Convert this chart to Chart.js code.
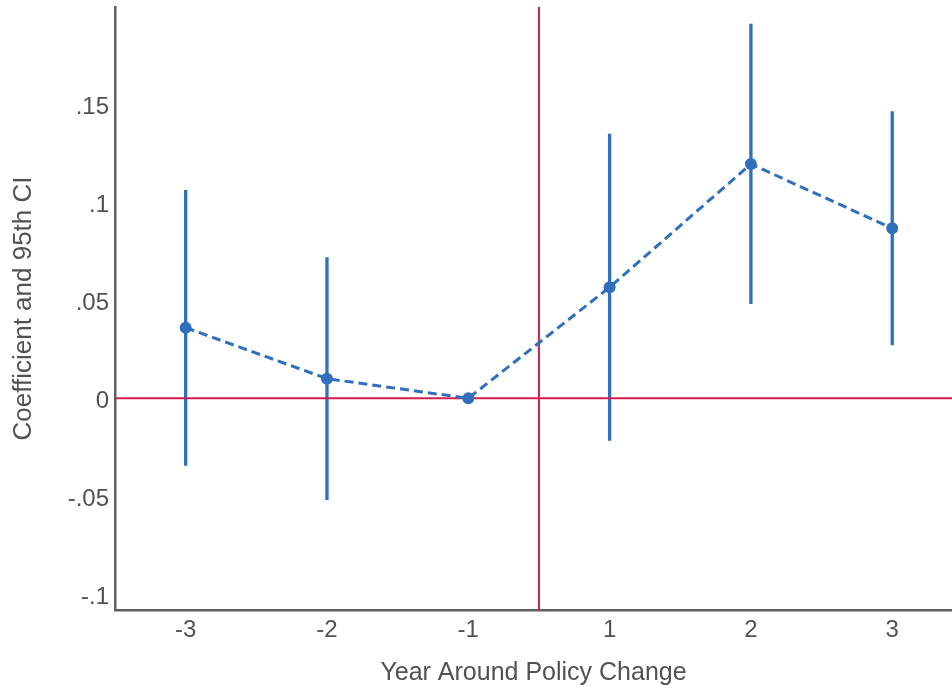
<!DOCTYPE html>
<html>
<head>
<meta charset="utf-8">
<script src="https://cdn.jsdelivr.net/npm/chart.js@4/dist/chart.umd.min.js"></script>
<style>
  html, body { margin: 0; padding: 0; background: #ffffff; }
  canvas { display: block; }
</style>
</head>
<body>
<canvas id="c" width="952" height="691"></canvas>
<script>
// ---- data ----
const xCategories = ["-3", "-2", "-1", "1", "2", "3"];
const coefficients = [0.0360, 0.0100, 0.0, 0.0566, 0.1195, 0.0867];
const ciLower = [-0.0344, -0.0519, null, -0.0216, 0.0481, 0.0270];
const ciUpper = [0.1063, 0.0719, null, 0.1349, 0.1910, 0.1464];
const yTickValues = [-0.1, -0.05, 0, 0.05, 0.1, 0.15];
const yTickLabels = ["-.1", "-.05", "0", ".05", ".1", ".15"];
const policyBreak = 2.5;   // between "-1" and "1"
const zeroLine = 0;

// ---- build library datasets from the arrays ----
const yMin = -0.108, yMax = 0.1996;
const xMin = -0.5, xMax = 5.423;

const coefPoints = coefficients.map((v, i) => ({ x: i, y: v }));
const ciPoints = [];
ciLower.forEach((lo, i) => {
  if (lo === null || ciUpper[i] === null) return;
  ciPoints.push({ x: i, y: lo }, { x: i, y: ciUpper[i] }, { x: i, y: null });
});

const blue = '#2f6fbe';
const red = '#d21e4e';
const textColor = '#525252';

new Chart(document.getElementById('c'), {
  type: 'line',
  data: {
    datasets: [
      {
        label: 'coef',
        data: coefPoints,
        borderColor: blue,
        backgroundColor: blue,
        borderWidth: 3,
        borderDash: [9, 5],
        pointRadius: 6,
        pointBorderWidth: 0,
        pointBackgroundColor: blue,
        fill: false,
        tension: 0,
        order: 0
      },
      {
        label: 'zero',
        data: [{ x: xMin, y: zeroLine }, { x: xMax, y: zeroLine }],
        borderColor: red,
        borderWidth: 2,
        pointRadius: 0,
        fill: false,
        order: 1
      },
      {
        label: 'break',
        data: [{ x: policyBreak, y: yMin }, { x: policyBreak, y: yMax }],
        borderColor: red,
        borderWidth: 2,
        pointRadius: 0,
        fill: false,
        order: 1
      },
      {
        label: 'ci',
        data: ciPoints,
        borderColor: blue,
        borderWidth: 3.3,
        borderCapStyle: 'butt',
        pointRadius: 0,
        spanGaps: false,
        fill: false,
        order: 2
      }
    ]
  },
  options: {
    responsive: false,
    animation: false,
    devicePixelRatio: 1,
    layout: { autoPadding: false, padding: { top: 7, right: 0, left: 0, bottom: 0 } },
    plugins: { legend: { display: false }, tooltip: { enabled: false } },
    scales: {
      x: {
        type: 'linear',
        min: xMin,
        max: xMax,
        grid: { display: false, drawTicks: false },
        border: { display: true, color: '#5f5f5f', width: 2.5 },
        afterBuildTicks: (s) => { s.ticks = xCategories.map((_, i) => ({ value: i })); },
        afterFit: (s) => { s.height = 81; s.paddingLeft = 0; s.paddingRight = 0; },
        ticks: {
          color: textColor,
          font: { family: 'Liberation Sans, Arial, sans-serif', size: 24 },
          padding: 6,
          autoSkip: false,
          maxRotation: 0,
          callback: (v) => xCategories[v]
        },
        title: {
          display: true,
          text: 'Year Around Policy Change',
          color: textColor,
          font: { family: 'Liberation Sans, Arial, sans-serif', size: 25 },
          padding: { top: 0, bottom: 3 }
        }
      },
      y: {
        type: 'linear',
        min: yMin,
        max: yMax,
        grid: { display: false, drawTicks: false },
        border: { display: true, color: '#5f5f5f', width: 2.5 },
        afterBuildTicks: (s) => { s.ticks = yTickValues.map(v => ({ value: v })); },
        afterFit: (s) => { s.width = 115; s.paddingTop = 0; s.paddingBottom = 0; },
        ticks: {
          color: textColor,
          font: { family: 'Liberation Sans, Arial, sans-serif', size: 24 },
          padding: 6,
          labelOffset: 3,
          autoSkip: false,
          callback: (v) => {
            const k = yTickValues.findIndex(t => Math.abs(t - v) < 1e-9);
            return k >= 0 ? yTickLabels[k] : '';
          }
        },
        title: {
          display: true,
          text: 'Coefficient and 95th CI',
          color: textColor,
          font: { family: 'Liberation Sans, Arial, sans-serif', size: 26 },
          padding: { top: 8, bottom: 0 }
        }
      }
    }
  }
});
</script>
</body>
</html>
